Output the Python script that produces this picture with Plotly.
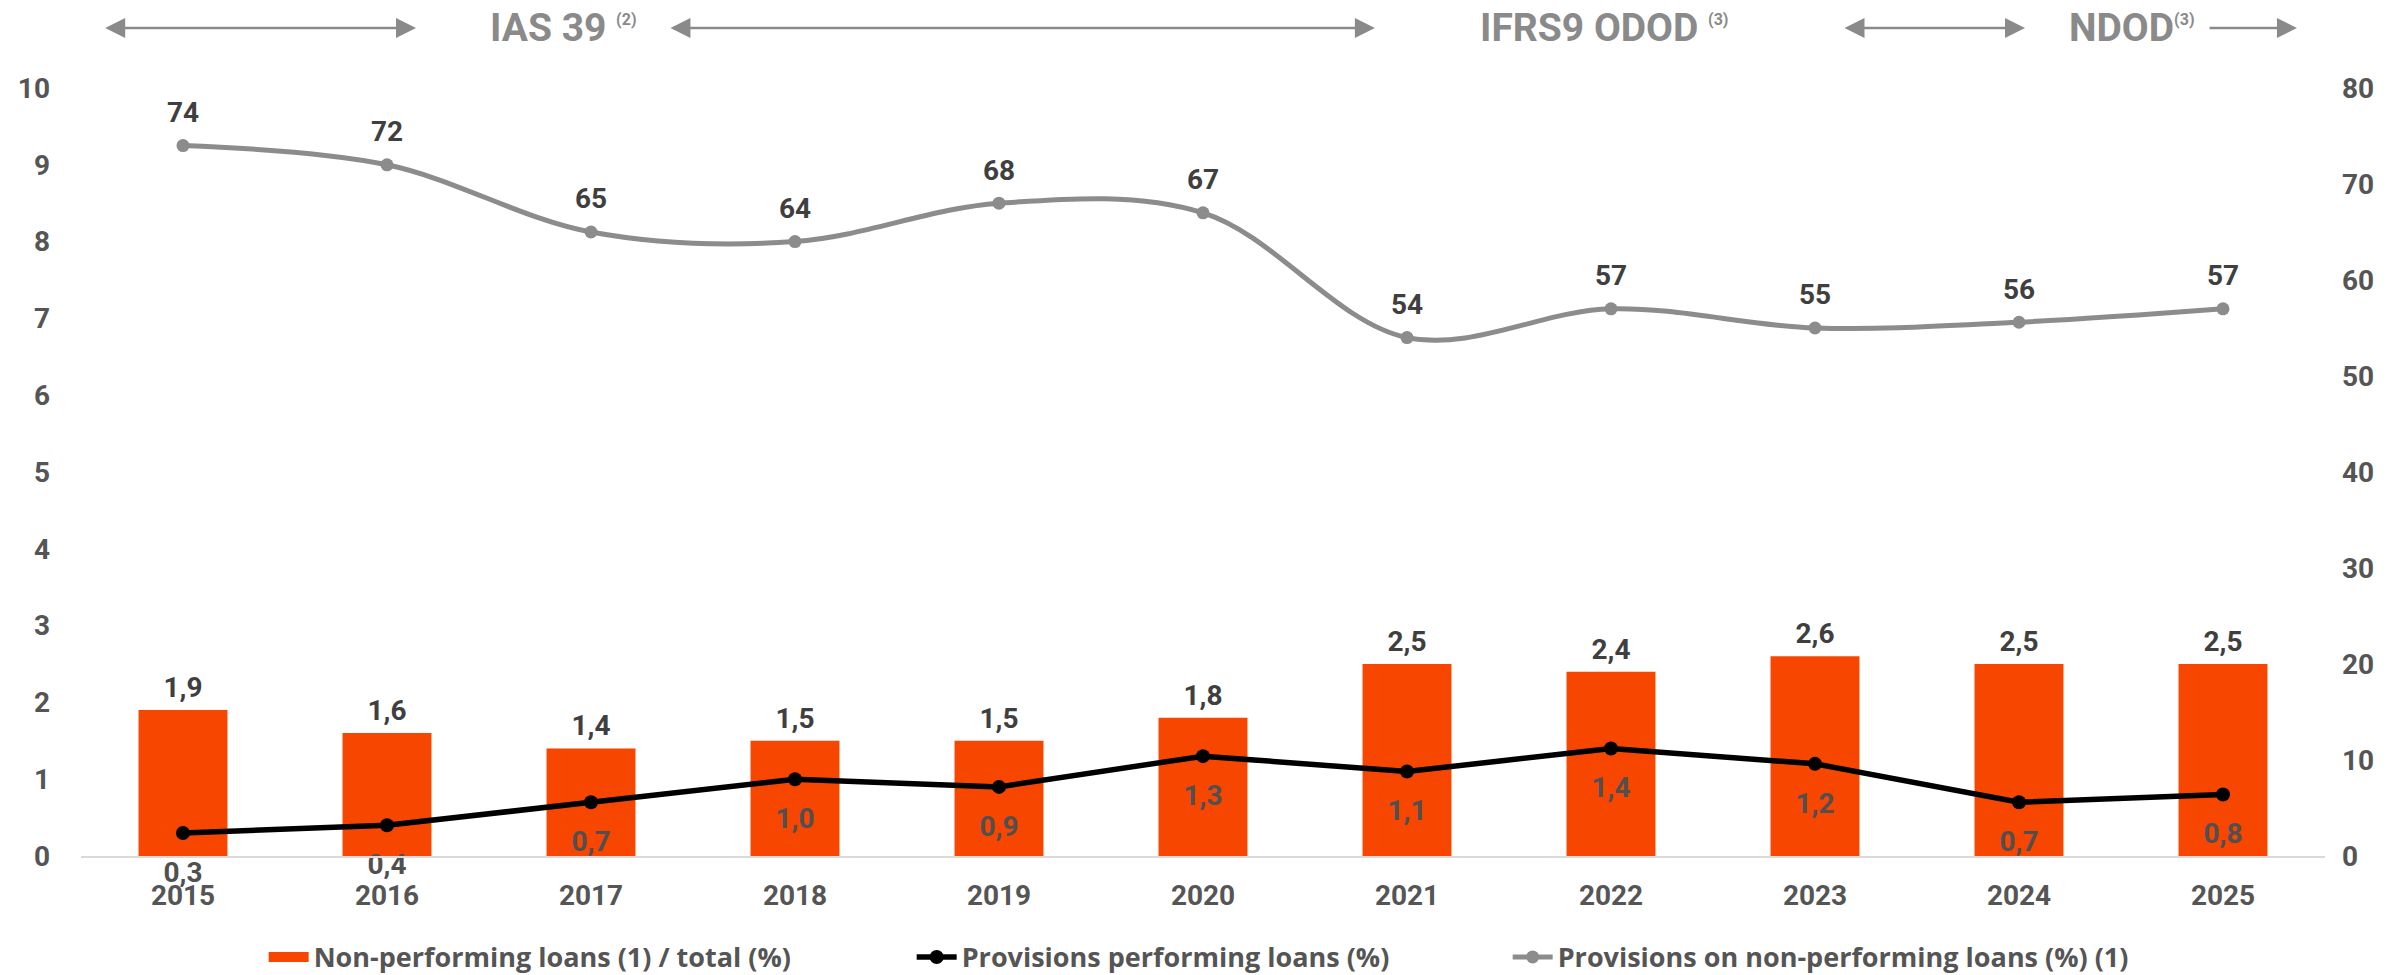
import plotly.graph_objects as go

years = ["2015", "2016", "2017", "2018", "2019", "2020", "2021", "2022", "2023", "2024", "2025"]
npl_ratio = [1.9, 1.6, 1.4, 1.5, 1.5, 1.8, 2.5, 2.4, 2.6, 2.5, 2.5]
prov_performing = [0.3, 0.4, 0.7, 1.0, 0.9, 1.3, 1.1, 1.4, 1.2, 0.7, 0.8]
prov_npl = [74, 72, 65, 64, 68, 67, 54, 57, 55, 55.6, 57]
left_ticks = list(range(0, 11))
right_ticks = list(range(0, 81, 10))

FONT = "Roboto, 'Open Sans', sans-serif"
ORANGE = "#F64600"
GRAY_LINE = "#8C8C8C"
TXT = "#555555"
DARK = "#3F3F3F"
HDR = "#8A8A8A"
CLEAR = "rgba(0,0,0,0)"

fig = go.Figure()
fig.add_trace(go.Bar(
    x=years, y=npl_ratio, name="Non-performing loans (1) / total (%)",
    marker=dict(color=ORANGE, line=dict(width=0)),
    yaxis="y", showlegend=False, hoverinfo="y",
))
# legend entry for the bars, drawn as a wide block like the reference
fig.add_trace(go.Scatter(
    x=[None], y=[None], mode="lines", name="Non-performing loans (1) / total (%)",
    line=dict(color=ORANGE, width=18), legendwidth=593, yaxis="y",
))
fig.add_trace(go.Scatter(
    x=years, y=prov_performing, name="Provisions performing loans (%)",
    mode="lines+markers",
    line=dict(color="#000000", width=5.5),
    marker=dict(color="#000000", size=14),
    yaxis="y", legendwidth=541,
))
fig.add_trace(go.Scatter(
    x=years, y=prov_npl, name="Provisions on non-performing loans (%) (1)",
    mode="lines+markers",
    line=dict(color=GRAY_LINE, width=5, shape="spline"),
    marker=dict(color=GRAY_LINE, size=13),
    yaxis="y2",
))

# value labels (transparent markers give the label offset)
lblfont = dict(family=FONT, size=28, color=DARK, weight="bold")
fig.add_trace(go.Scatter(
    x=years, y=npl_ratio, mode="markers+text", marker=dict(size=8, color=CLEAR),
    texttemplate="%{y:.1f}", textposition="top center", cliponaxis=False,
    textfont=lblfont, showlegend=False, hoverinfo="skip", yaxis="y",
))
fig.add_trace(go.Scatter(
    x=years, y=prov_performing, mode="markers+text", marker=dict(size=43, color=CLEAR),
    texttemplate="%{y:.1f}", textposition="bottom center", cliponaxis=False,
    textfont=dict(family=FONT, size=28, color="#505050", weight="bold"),
    showlegend=False, hoverinfo="skip", yaxis="y",
))
fig.add_trace(go.Scatter(
    x=years, y=prov_npl, mode="markers+text", marker=dict(size=25, color=CLEAR),
    texttemplate="%{y:.0f}", textposition="top center", cliponaxis=False,
    textfont=lblfont, showlegend=False, hoverinfo="skip", yaxis="y2",
))

tickfont = dict(family=FONT, size=28, color=TXT, weight="bold")

annotations = []
arrow_y = 1.078
def arrow(x0, x1, both=True):
    annotations.append(dict(
        x=x1, y=arrow_y, ax=x0, ay=arrow_y, xref="x domain", yref="y domain",
        axref="x domain", ayref="y domain", text="", showarrow=True,
        arrowhead=2, arrowsize=1.6, arrowwidth=2.5, arrowcolor=HDR,
        arrowside="end+start" if both else "end",
    ))
arrow(0.0101, 0.1493)
arrow(0.2620, 0.5766)
arrow(0.7852, 0.8663)
arrow(0.9479, 0.9875, both=False)

def header(x, txt, sup):
    annotations.append(dict(
        x=x, y=arrow_y, xref="paper", yref="paper", xanchor="left", yanchor="middle",
        text=f"{txt}<sup><span style='font-size:16px'>{sup}</span></sup>",
        showarrow=False, font=dict(family=FONT, size=39, color=HDR, weight="bold"),
    ))
header(0.1814, "IAS 39 ", "(2)")
header(0.6225, "IFRS9 ODOD ", "(3)")
header(0.8850, "NDOD", "(3)")

fig.update_layout(
    width=2392, height=975,
    margin=dict(l=81, r=67, t=88, b=119, autoexpand=False),
    paper_bgcolor="white", plot_bgcolor="white",
    separators=",.",
    bargap=0.564,
    showlegend=True,
    legend=dict(orientation="h", x=0.0814, xanchor="left", y=-0.132, yanchor="middle",
                font=dict(family="'Open Sans', Roboto, sans-serif", size=27, color=TXT, weight="bold"),
                itemwidth=40, traceorder="normal"),
    xaxis=dict(type="category", range=[-0.5, 10.5], showgrid=False, showline=True,
               linecolor="#D9D9D9", linewidth=2,
               ticks="", tickfont=tickfont, ticklabelstandoff=13),
    yaxis=dict(range=[0, 10], tickvals=left_ticks, showgrid=False, zeroline=False, showline=False,
               tickfont=tickfont, ticklabelstandoff=30),
    yaxis2=dict(range=[0, 80], tickvals=right_ticks, overlaying="y", side="right", showgrid=False,
                zeroline=False, showline=False, tickfont=tickfont, ticklabelstandoff=16),
    annotations=annotations,
    font=dict(family=FONT),
)

fig.write_html("out.html", config={"displayModeBar": False},
               post_script="document.body.style.margin='0';")
